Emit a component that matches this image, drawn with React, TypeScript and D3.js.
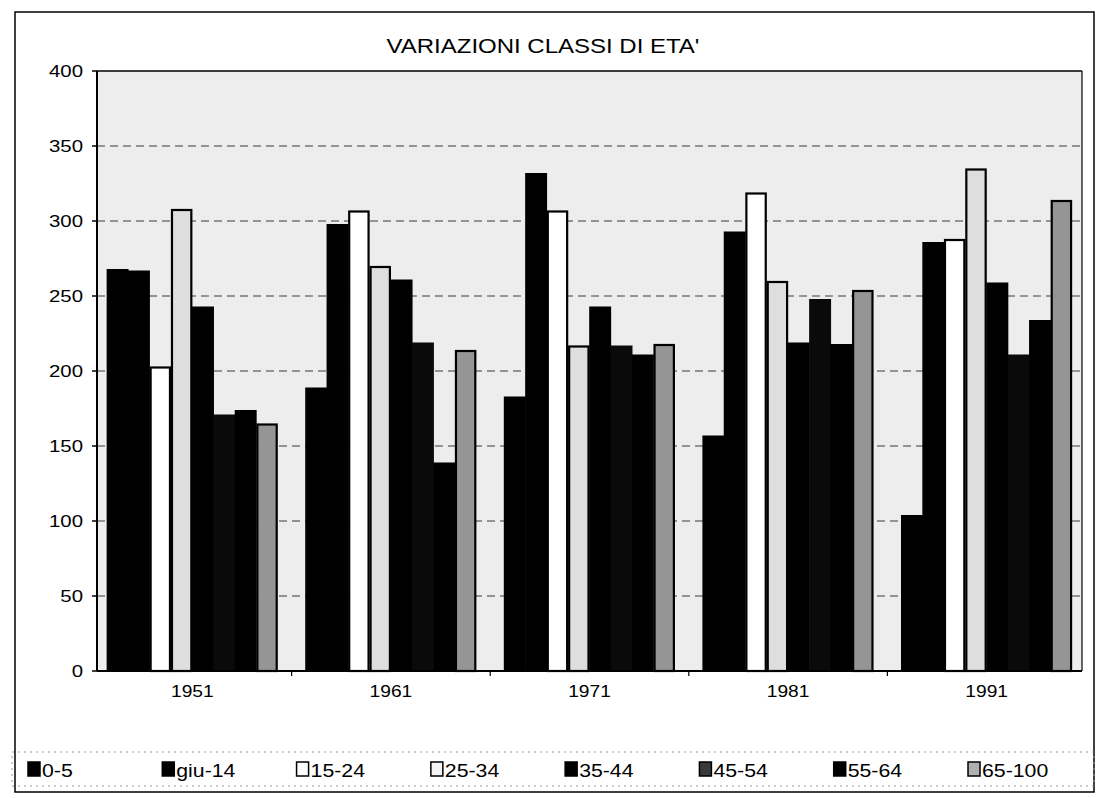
import React from "react";
import * as d3 from "d3";

const years = ["1951", "1961", "1971", "1981", "1991"];
const ageClasses = ["0-5", "giu-14", "15-24", "25-34", "35-44", "45-54", "55-64", "65-100"];

const v0_5 = [268, 189, 183, 157, 104];
const vGiu14 = [267, 298, 332, 293, 286];
const v15_24 = [203, 307, 307, 319, 288];
const v25_34 = [308, 270, 217, 260, 335];
const v35_44 = [243, 261, 243, 219, 259];
const v45_54 = [171, 219, 217, 248, 211];
const v55_64 = [174, 139, 211, 218, 234];
const v65_100 = [165, 214, 218, 254, 314];

const yTicks = [0, 50, 100, 150, 200, 250, 300, 350, 400];

const seriesValues = [v0_5, vGiu14, v15_24, v25_34, v35_44, v45_54, v55_64, v65_100];

const barFill = ["#000", "#000", "#fff", "#dedede", "#000", "#0a0a0a", "#000", "#959595"];
const outlined = [false, false, true, true, false, false, false, true];
const legendFill = ["#000", "#000", "#fff", "#f4f4f4", "#000", "#3a3a3a", "#000", "#b0b0b0"];

const FONT = "Arial, 'Liberation Sans', Helvetica, sans-serif";
const SX = 1.2;

export default function App() {
  const W = 1098;
  const H = 798;
  const plotL = 97;
  const plotR = 1082;
  const plotT = 71;
  const plotB = 671;

  const x0 = d3
    .scaleBand<string>()
    .domain(years)
    .range([plotL, plotR])
    .paddingInner(0.14)
    .paddingOuter(0.05);
  const x1 = d3
    .scaleBand<string>()
    .domain(ageClasses)
    .range([0, x0.bandwidth()])
    .padding(0);
  const y = d3.scaleLinear().domain([0, 400]).range([plotB, plotT]);

  const step = x0.step();
  const boundaries = years.slice(1).map((yr) => (x0(yr) as number) - (step * 0.14) / 2);

  const legendX = d3
    .scalePoint<string>()
    .domain(ageClasses)
    .range([28, 968]);

  return (
    <svg
      width={W}
      height={H}
      style={{ position: "absolute", left: 0, top: 0, background: "#fff" }}
      fontFamily={FONT}
    >
      {/* outer frame */}
      <rect x={15} y={12} width={1079} height={780} fill="none" stroke="#000" strokeWidth={1.5} />

      {/* title */}
      <text
        transform={`translate(543,53) scale(${SX},1)`}
        textAnchor="middle"
        fontSize={20}
        fill="#000"
      >
        VARIAZIONI CLASSI DI ETA'
      </text>

      {/* plot background */}
      <rect x={plotL} y={plotT} width={plotR - plotL} height={plotB - plotT} fill="#ededed" />

      {/* gridlines */}
      {yTicks
        .filter((t) => t > 0 && t < 400)
        .map((t) => (
          <line
            key={"g" + t}
            x1={plotL}
            x2={plotR}
            y1={y(t)}
            y2={y(t)}
            stroke="#3a3a3a"
            strokeWidth={1.2}
            strokeDasharray="8,5"
          />
        ))}

      {/* bars */}
      {years.map((yr, gi) => (
        <g key={yr} transform={`translate(${x0(yr)},0)`}>
          {ageClasses.map((ac, si) => {
            const v = seriesValues[si][gi];
            const bx = x1(ac) as number;
            const bw = x1.bandwidth();
            const top = y(v);
            return outlined[si] ? null : (
              <rect key={ac} x={bx - 0.3} y={top} width={bw + 0.6} height={plotB - top} fill={barFill[si]} />
            );
          })}
          {ageClasses.map((ac, si) => {
            const v = seriesValues[si][gi];
            const bx = x1(ac) as number;
            const bw = x1.bandwidth();
            const top = y(v);
            return outlined[si] ? (
              <rect
                key={ac}
                x={bx + 1}
                y={top + 1}
                width={bw - 2}
                height={plotB - top - 1}
                fill={barFill[si]}
                stroke="#000"
                strokeWidth={2.2}
              />
            ) : null;
          })}
        </g>
      ))}

      {/* plot border */}
      <line x1={plotL} x2={plotR} y1={plotT} y2={plotT} stroke="#000" strokeWidth={1.5} />
      <line x1={plotR} x2={plotR} y1={plotT} y2={plotB} stroke="#000" strokeWidth={1.2} />
      <line x1={plotL} x2={plotL} y1={plotT} y2={plotB} stroke="#000" strokeWidth={2} />
      <line x1={plotL} x2={plotR} y1={plotB} y2={plotB} stroke="#000" strokeWidth={2} />

      {/* y ticks & labels */}
      {yTicks.map((t) => (
        <g key={"t" + t}>
          <line x1={plotL - 5} x2={plotL} y1={y(t)} y2={y(t)} stroke="#000" strokeWidth={1.5} />
          <text
            transform={`translate(83,${y(t)}) scale(${SX},1)`}
            dy="0.36em"
            textAnchor="end"
            fontSize={17}
            fill="#000"
          >
            {t}
          </text>
        </g>
      ))}

      {/* x ticks */}
      {boundaries.map((bx, i) => (
        <line key={"xt" + i} x1={bx} x2={bx} y1={plotB} y2={plotB + 5} stroke="#000" strokeWidth={1.2} />
      ))}

      {/* x labels */}
      {years.map((yr) => (
        <text
          key={"xl" + yr}
          transform={`translate(${(x0(yr) as number) + x0.bandwidth() / 2},697) scale(${SX},1)`}
          textAnchor="middle"
          fontSize={16}
          fill="#000"
        >
          {yr}
        </text>
      ))}

      {/* legend frame (faint) */}
      <rect
        x={12}
        y={752}
        width={1082}
        height={34}
        fill="none"
        stroke="#999"
        strokeWidth={1}
        strokeDasharray="2,4"
      />

      {/* legend */}
      {ageClasses.map((ac, si) => {
        const lx = legendX(ac) as number;
        return (
          <g key={"lg" + ac}>
            <rect
              x={lx}
              y={762}
              width={12}
              height={14}
              fill={legendFill[si]}
              stroke="#000"
              strokeWidth={1.5}
            />
            <text
              transform={`translate(${lx + 14},777) scale(1.12,1)`}
              fontSize={19}
              fill="#000"
            >
              {ac}
            </text>
          </g>
        );
      })}
    </svg>
  );
}
